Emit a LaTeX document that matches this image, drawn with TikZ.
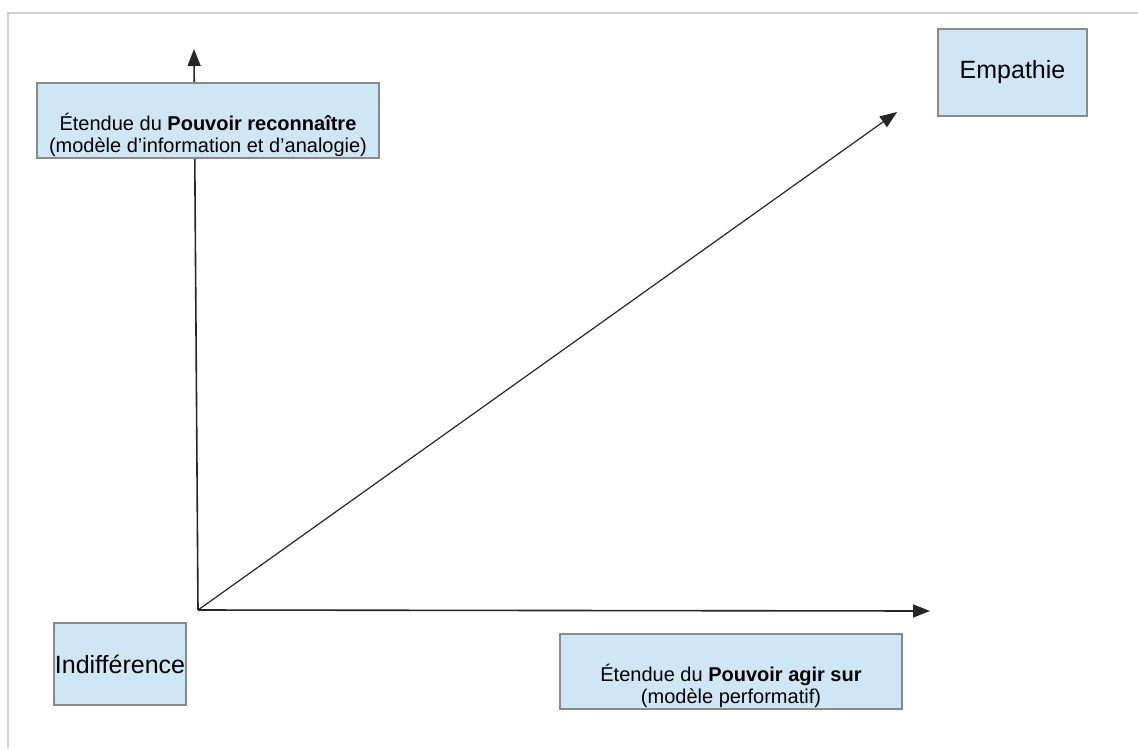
\documentclass[tikz,border=0pt]{standalone}
\usepackage{fontspec}
\setmainfont{Liberation Sans}
\usetikzlibrary{arrows.meta}
\definecolor{poleblue}{HTML}{CFE7F5}
\definecolor{poleline}{HTML}{8A8A8A}

\begin{document}
\begin{tikzpicture}
    [x=1pt,y=-1pt,
    axis/.style={draw=black!85,line width=1.6pt,-{Triangle[length=17pt,width=13pt]}},
    pole/.style={rectangle,draw=poleline,fill=poleblue,line width=1.2pt,inner sep=0pt,font=\fontsize{25}{30}\selectfont},
    axislabel/.style={pole,align=center,minimum width=342pt,minimum height=75pt,font=\fontsize{20}{22}\selectfont}]
    \useasboundingbox (0,0) rectangle (1138,748);
    \draw[black!18,line width=1.5pt] (8,748) -- (8,13) -- (1138,13);
    \coordinate (origine) at (198,610);
    \coordinate (yend) at (194,49);
    \coordinate (xend) at (930,611);
    \coordinate (dend) at (897,112);
    \draw[axis] (origine) -- (yend);
    \draw[axis] (origine) -- (xend);
    \draw[axis,line width=1.2pt] (origine) -- (dend);
    \node (reconnaitre) at (208,120.5) [axislabel] {\strut\\[6pt]Étendue du \textbf{Pouvoir reconnaître}\\(modèle d'information et d'analogie)};
    \node (agir) at (731,671.5) [axislabel] {\strut\\[6pt]Étendue du \textbf{Pouvoir agir sur}\\(modèle performatif)};
    \node (empathie) at (1012.5,72.5) [pole,minimum width=149pt,minimum height=87pt] {Empathie};
    \node (indifference) at (120,664) [pole,minimum width=132pt,minimum height=82pt] {Indifférence};
\end{tikzpicture}
\end{document}
